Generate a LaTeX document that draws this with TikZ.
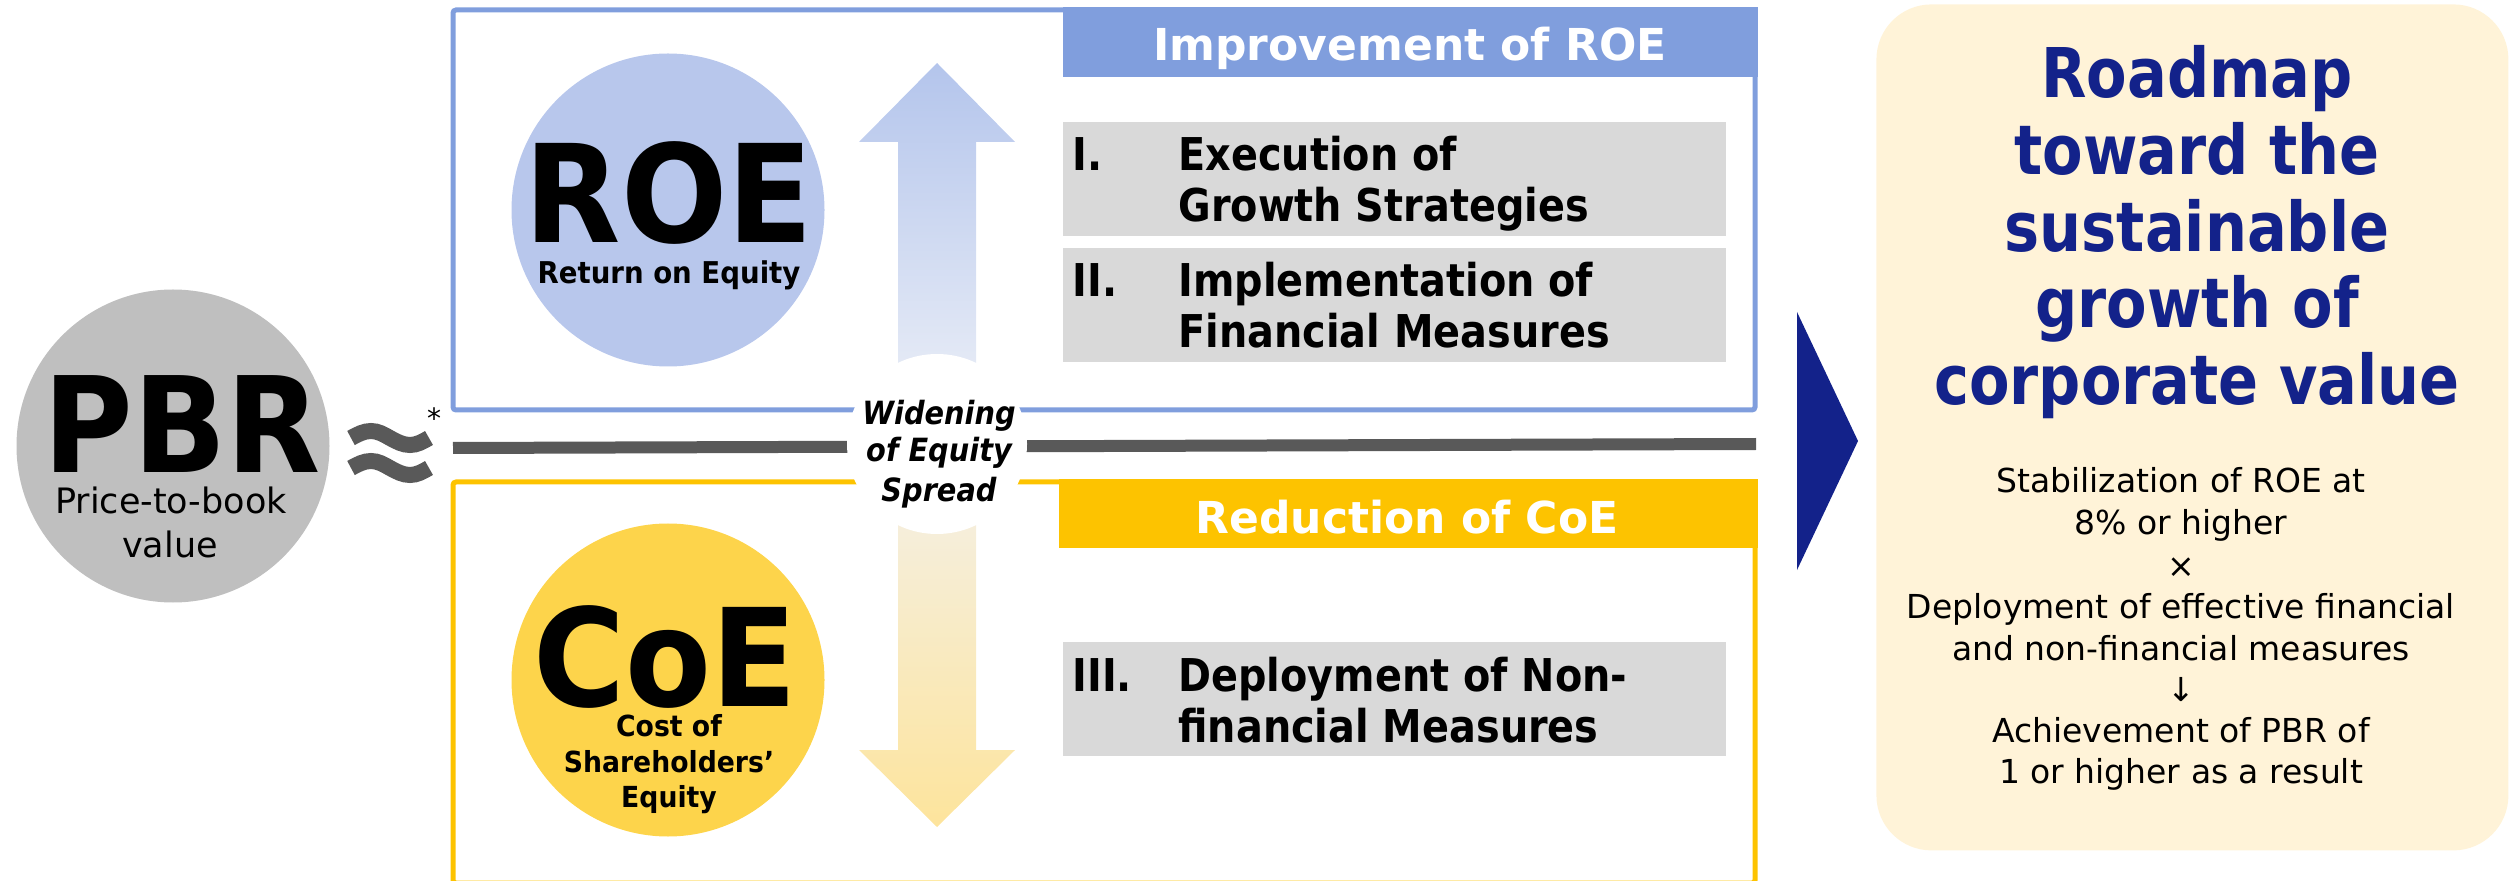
\documentclass[tikz,border=0pt]{standalone}
\usepackage{fontspec}
\setmainfont{DejaVu Sans}
\newfontfamily\slimfont{DejaVu Sans}[FakeStretch=0.88]
\newfontfamily\bigletters{DejaVu Sans}[FakeStretch=0.92]
\newfontfamily\titlefont{DejaVu Sans}[FakeStretch=0.86]
\newfontfamily\labelfont{DejaVu Sans}[FakeStretch=0.9]

\definecolor{pbrgray}{HTML}{BFBFBF}
\definecolor{darkline}{HTML}{595959}
\definecolor{roeblue}{HTML}{809EDD}
\definecolor{roefill}{HTML}{B8C7EC}
\definecolor{coegold}{HTML}{FDC300}
\definecolor{coefill}{HTML}{FDD44B}
\definecolor{itemgray}{HTML}{D9D9D9}
\definecolor{navy}{HTML}{13228A}
\definecolor{cream}{HTML}{FFF3D8}
\definecolor{uptop}{HTML}{B4C5EC}
\definecolor{upbot}{HTML}{E6EBF6}
\definecolor{dntop}{HTML}{F5EFDF}
\definecolor{dnbot}{HTML}{FDE49C}

\begin{document}
\begin{tikzpicture}[x=0.5pt,y=-0.5pt,
  txt/.style={inner sep=0pt, anchor=base},
  itemtxt/.style={inner sep=0pt, anchor=base west, font=\slimfont\bfseries\fontsize{22.6}{22.6}\selectfont},
  hdrtxt/.style={txt, text=white, font=\bfseries\fontsize{22}{22}\selectfont},
  itembox/.style={fill=itemgray, inner sep=0pt, anchor=north west, minimum width=331.5pt, minimum height=57pt},
  framebox/.style={line width=2.5pt, rounded corners=1.5pt},
  approxstroke/.style={draw=darkline, line width=8pt},
  bigcircle/.style={circle, inner sep=0pt, minimum size=156.5pt}]

\useasboundingbox (0,0) rectangle (2520,881);

% ---------- PBR ----------
\node[bigcircle, fill=pbrgray] (pbr) at (173,446) {};
\node[txt, font=\bigletters\bfseries\fontsize{66.5}{66.5}\selectfont] (pbrtitle) at (182,473) {PBR};
\node[txt, font=\fontsize{17.5}{17.5}\selectfont] (pbrsub1) at (171,514) {Price-to-book};
\node[txt, font=\fontsize{17.5}{17.5}\selectfont] (pbrsub2) at (170,558) {value};

% approximately-equal sign and footnote mark
\draw[approxstroke] (351,438) sin (371,431) cos (390,438) sin (410,445) cos (429,438);
\draw[approxstroke] (351,468) sin (371,461) cos (390,468) sin (410,475) cos (429,468);
\node[inner sep=0pt, font=\fontsize{14}{14}\selectfont] (star) at (434,418) {*};

% ---------- ROE panel ----------
\draw[framebox, draw=roeblue] (453,10) rectangle (1755,410);
\fill[roeblue] (1063,7) rectangle (1758,77);
\node[hdrtxt] (roehdr) at (1410,61) {Improvement of ROE};

\node[bigcircle, fill=roefill] (roe) at (668,210) {};
\node[txt, font=\bigletters\bfseries\fontsize{68}{68}\selectfont] (roetitle) at (669,243) {ROE};
\node[txt, font=\bigletters\bfseries\fontsize{15}{15}\selectfont] (roesub) at (669,284) {Return on Equity};

\node[itembox] (box1) at (1063,122) {};
\node[itembox] (box2) at (1063,248) {};
\node[itemtxt] (num1) at (1072,171) {I.};
\node[itemtxt] (item1a) at (1178,171) {Execution of};
\node[itemtxt] (item1b) at (1178,222) {Growth Strategies};
\node[itemtxt] (num2) at (1072,297) {II.};
\node[itemtxt] (item2a) at (1178,297) {Implementation of};
\node[itemtxt] (item2b) at (1178,348) {Financial Measures};

% ---------- CoE panel ----------
\draw[framebox, draw=coegold] (453,482) rectangle (1755,883);
\fill[coegold] (1059,479) rectangle (1758,548);
\node[hdrtxt] (coehdr) at (1407,533) {Reduction of CoE};

\node[bigcircle, fill=coefill] (coe) at (668,680) {};
\node[txt, font=\bigletters\bfseries\fontsize{68}{68}\selectfont] (coetitle) at (665,706) {CoE};
\node[txt, font=\bigletters\bfseries\fontsize{14.5}{14.5}\selectfont] (coesub1) at (669,736) {Cost of};
\node[txt, font=\bigletters\bfseries\fontsize{14.5}{14.5}\selectfont] (coesub2) at (669,772) {Shareholders’};
\node[txt, font=\bigletters\bfseries\fontsize{14.5}{14.5}\selectfont] (coesub3) at (669,807) {Equity};

\node[itembox] (box3) at (1063,642) {};
\node[itemtxt] (num3) at (1072,691) {III.};
\node[itemtxt] (item3a) at (1178,691) {Deployment of Non-};
\node[itemtxt] (item3b) at (1178,742) {financial Measures};

% ---------- spread line and arrows ----------
\coordinate (spreadL) at (453,448);
\coordinate (spreadR) at (1756,444);
\draw[darkline, line width=6pt] (spreadL) -- (spreadR);

\shade[top color=uptop, bottom color=upbot]
  (898,380) -- (898,142) -- (859,142) -- (937,63) -- (1015,142) -- (976,142) -- (976,380) -- cycle;
\shade[top color=dntop, bottom color=dnbot]
  (898,505) -- (898,750) -- (859,750) -- (937,827) -- (1015,750) -- (976,750) -- (976,505) -- cycle;

\node[circle, fill=white, inner sep=0pt, minimum size=90pt] (spread) at (937,444) {};
\node[txt, font=\labelfont\bfseries\itshape\fontsize{16}{16}\selectfont] (spread1) at (939,425) {Widening};
\node[txt, font=\labelfont\bfseries\itshape\fontsize{16}{16}\selectfont] (spread2) at (939,462) {of Equity};
\node[txt, font=\labelfont\bfseries\itshape\fontsize{16}{16}\selectfont] (spread3) at (939,502) {Spread};

% ---------- pointer and roadmap ----------
\fill[navy] (1797,312) -- (1858,441) -- (1797,570) -- cycle;

\node[fill=cream, rounded corners=27.5pt, inner sep=0pt, anchor=north west,
      minimum width=316pt, minimum height=423pt] (roadmap) at (1876,4) {};

\foreach \t/\yy [count=\k] in {Roadmap/98, toward the/175, sustainable/252, growth of/328, corporate value/405}
  \node[txt, text=navy, font=\titlefont\bfseries\fontsize{34.3}{34.3}\selectfont] (title\k) at (2197,\yy) {\t};

\foreach \t/\yy [count=\k] in {Stabilization of ROE at/493, 8\% or higher/535, ×/577,
    Deployment of effective financial/618, and non-financial measures/660, ↓/701,
    Achievement of PBR of/742, 1 or higher as a result/783}
  \node[txt, font=\fontsize{16.5}{16.5}\selectfont] (line\k) at (2181,\yy) {\t};

\end{tikzpicture}
\end{document}
